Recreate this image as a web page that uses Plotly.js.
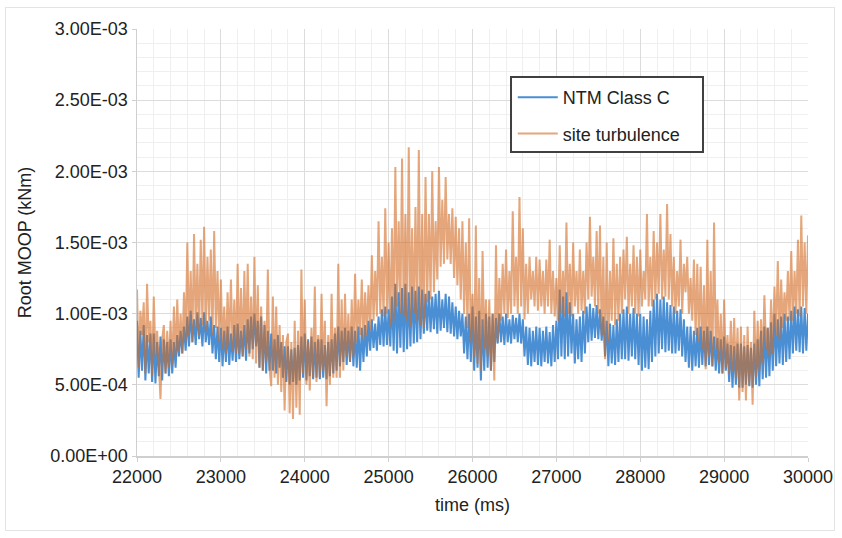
<!DOCTYPE html>
<html>
<head>
<meta charset="utf-8">
<script src="https://cdn.plot.ly/plotly-3.0.1.min.js"></script>
<style>
  html, body { margin: 0; padding: 0; background: #ffffff; }
  #frame { position: absolute; left: 5px; top: 7px; width: 830px; height: 524px; border: 1.5px solid #e4e4e4; box-sizing: border-box; }
  #chart { position: absolute; left: 0; top: 0; width: 842px; height: 538px; }
</style>
</head>
<body>
<div id="frame"></div>
<div id="chart"></div>
<script>
// ---- data ----
const timeStartMs = 22000;   // first sample time
const timeStepMs = 20;       // sampling step

const seriesNames = ['NTM Class C', 'site turbulence'];

const ntmClassC = [
0.95e-3,0.55e-3,0.88e-3,0.60e-3,0.92e-3,0.53e-3,0.85e-3,0.58e-3,0.86e-3,0.52e-3,
0.86e-3,0.51e-3,0.80e-3,0.56e-3,0.84e-3,0.53e-3,0.82e-3,0.58e-3,0.80e-3,0.56e-3,
0.82e-3,0.58e-3,0.80e-3,0.62e-3,0.85e-3,0.70e-3,0.88e-3,0.72e-3,0.91e-3,0.74e-3,
0.98e-3,0.77e-3,1.02e-3,0.80e-3,0.96e-3,0.78e-3,1.01e-3,0.82e-3,0.97e-3,0.77e-3,
1.01e-3,0.80e-3,0.95e-3,0.78e-3,0.98e-3,0.72e-3,0.92e-3,0.68e-3,0.91e-3,0.66e-3,
0.90e-3,0.63e-3,0.88e-3,0.66e-3,0.91e-3,0.64e-3,0.86e-3,0.67e-3,0.92e-3,0.66e-3,
0.93e-3,0.68e-3,0.88e-3,0.70e-3,0.92e-3,0.67e-3,0.96e-3,0.72e-3,0.98e-3,0.75e-3,
1.00e-3,0.77e-3,0.95e-3,0.62e-3,0.98e-3,0.60e-3,0.92e-3,0.58e-3,0.88e-3,0.60e-3,
0.86e-3,0.60e-3,0.82e-3,0.58e-3,0.85e-3,0.62e-3,0.80e-3,0.55e-3,0.77e-3,0.52e-3,
0.77e-3,0.50e-3,0.75e-3,0.52e-3,0.76e-3,0.50e-3,0.78e-3,0.53e-3,0.84e-3,0.55e-3,
0.86e-3,0.53e-3,0.82e-3,0.56e-3,0.84e-3,0.54e-3,0.80e-3,0.55e-3,0.82e-3,0.54e-3,
0.82e-3,0.55e-3,0.78e-3,0.54e-3,0.80e-3,0.56e-3,0.82e-3,0.58e-3,0.86e-3,0.60e-3,
0.91e-3,0.63e-3,0.88e-3,0.66e-3,0.90e-3,0.64e-3,0.88e-3,0.66e-3,0.91e-3,0.63e-3,
0.88e-3,0.62e-3,0.91e-3,0.60e-3,0.90e-3,0.66e-3,0.92e-3,0.70e-3,0.95e-3,0.74e-3,
0.96e-3,0.76e-3,0.93e-3,0.74e-3,0.98e-3,0.78e-3,1.03e-3,0.77e-3,1.05e-3,0.78e-3,
1.03e-3,0.77e-3,1.12e-3,0.74e-3,1.21e-3,0.72e-3,1.15e-3,0.76e-3,1.18e-3,0.73e-3,
1.21e-3,0.75e-3,1.15e-3,0.77e-3,1.19e-3,0.79e-3,1.16e-3,0.80e-3,1.19e-3,0.82e-3,
1.17e-3,0.86e-3,1.14e-3,0.88e-3,1.16e-3,0.87e-3,1.12e-3,0.89e-3,1.14e-3,0.86e-3,
1.16e-3,0.88e-3,1.10e-3,0.90e-3,1.14e-3,0.87e-3,1.12e-3,0.86e-3,1.08e-3,0.84e-3,
1.05e-3,0.82e-3,1.02e-3,0.84e-3,1.00e-3,0.72e-3,0.98e-3,0.68e-3,1.00e-3,0.66e-3,
1.05e-3,0.60e-3,0.98e-3,0.62e-3,1.02e-3,0.53e-3,0.96e-3,0.60e-3,1.00e-3,0.62e-3,
0.98e-3,0.60e-3,1.00e-3,0.66e-3,0.97e-3,0.79e-3,1.00e-3,0.80e-3,0.98e-3,0.78e-3,
1.00e-3,0.80e-3,0.96e-3,0.79e-3,0.99e-3,0.82e-3,0.97e-3,0.80e-3,1.00e-3,0.79e-3,
0.96e-3,0.70e-3,0.91e-3,0.64e-3,0.90e-3,0.63e-3,0.88e-3,0.66e-3,0.91e-3,0.64e-3,
0.90e-3,0.63e-3,0.88e-3,0.66e-3,0.91e-3,0.65e-3,0.87e-3,0.63e-3,0.92e-3,0.66e-3,
0.95e-3,0.68e-3,1.17e-3,0.70e-3,1.12e-3,0.68e-3,1.15e-3,0.70e-3,1.08e-3,0.72e-3,
1.00e-3,0.65e-3,0.96e-3,0.68e-3,0.98e-3,0.66e-3,1.02e-3,0.72e-3,1.05e-3,0.80e-3,
1.07e-3,0.81e-3,1.04e-3,0.83e-3,1.06e-3,0.82e-3,1.03e-3,0.81e-3,0.98e-3,0.70e-3,
0.95e-3,0.63e-3,0.93e-3,0.65e-3,0.92e-3,0.64e-3,0.96e-3,0.66e-3,1.00e-3,0.68e-3,
1.03e-3,0.68e-3,1.05e-3,0.67e-3,1.00e-3,0.70e-3,1.04e-3,0.68e-3,1.00e-3,0.64e-3,
1.00e-3,0.60e-3,0.98e-3,0.62e-3,0.96e-3,0.61e-3,1.02e-3,0.66e-3,1.10e-3,0.70e-3,
1.14e-3,0.72e-3,1.10e-3,0.75e-3,1.12e-3,0.73e-3,1.08e-3,0.74e-3,1.06e-3,0.72e-3,
1.05e-3,0.72e-3,1.02e-3,0.74e-3,1.03e-3,0.70e-3,0.96e-3,0.66e-3,0.91e-3,0.62e-3,
0.91e-3,0.60e-3,0.88e-3,0.63e-3,0.90e-3,0.62e-3,0.91e-3,0.64e-3,0.88e-3,0.63e-3,
0.91e-3,0.64e-3,0.88e-3,0.63e-3,0.84e-3,0.60e-3,0.83e-3,0.58e-3,0.82e-3,0.58e-3,
0.84e-3,0.60e-3,0.79e-3,0.52e-3,0.78e-3,0.48e-3,0.77e-3,0.50e-3,0.79e-3,0.48e-3,
0.79e-3,0.48e-3,0.77e-3,0.50e-3,0.78e-3,0.49e-3,0.76e-3,0.48e-3,0.79e-3,0.50e-3,
0.82e-3,0.49e-3,0.88e-3,0.54e-3,0.91e-3,0.55e-3,0.90e-3,0.56e-3,0.94e-3,0.60e-3,
1.00e-3,0.63e-3,0.96e-3,0.65e-3,0.98e-3,0.64e-3,1.00e-3,0.66e-3,0.98e-3,0.68e-3,
1.02e-3,0.72e-3,1.05e-3,0.74e-3,1.03e-3,0.73e-3,1.05e-3,0.72e-3,1.04e-3,0.74e-3,
1.00e-3
];

const siteTurbulence = [
1.17e-3,0.62e-3,1.02e-3,0.85e-3,1.08e-3,0.58e-3,1.21e-3,0.80e-3,0.95e-3,0.56e-3,
1.12e-3,0.70e-3,0.88e-3,0.60e-3,0.40e-3,0.82e-3,0.92e-3,0.58e-3,0.88e-3,0.62e-3,
0.95e-3,0.64e-3,1.05e-3,0.70e-3,1.10e-3,0.74e-3,1.00e-3,0.72e-3,1.15e-3,0.80e-3,
1.50e-3,0.85e-3,1.30e-3,0.80e-3,1.56e-3,0.90e-3,1.35e-3,0.85e-3,1.52e-3,0.92e-3,
1.61e-3,0.88e-3,1.40e-3,0.95e-3,1.45e-3,0.85e-3,1.58e-3,0.90e-3,1.30e-3,0.80e-3,
1.24e-3,0.75e-3,1.05e-3,0.72e-3,1.15e-3,0.78e-3,1.24e-3,0.74e-3,1.10e-3,0.72e-3,
1.35e-3,0.72e-3,1.18e-3,0.70e-3,1.30e-3,0.75e-3,1.35e-3,0.70e-3,1.12e-3,0.68e-3,
1.40e-3,0.65e-3,1.20e-3,0.62e-3,1.05e-3,0.60e-3,0.95e-3,0.66e-3,1.31e-3,0.62e-3,
0.49e-3,1.12e-3,0.55e-3,1.05e-3,0.50e-3,0.92e-3,0.45e-3,0.85e-3,0.32e-3,0.80e-3,
0.86e-3,0.30e-3,0.80e-3,0.26e-3,0.95e-3,0.34e-3,0.88e-3,0.29e-3,1.31e-3,0.58e-3,
1.10e-3,0.50e-3,0.80e-3,0.46e-3,0.90e-3,0.55e-3,1.19e-3,0.52e-3,0.85e-3,0.55e-3,
1.14e-3,0.60e-3,0.95e-3,0.35e-3,0.85e-3,0.50e-3,1.14e-3,0.55e-3,0.90e-3,0.55e-3,
1.35e-3,0.55e-3,1.10e-3,0.60e-3,1.14e-3,0.70e-3,1.00e-3,0.66e-3,1.10e-3,0.70e-3,
1.28e-3,0.80e-3,1.10e-3,0.85e-3,1.24e-3,0.82e-3,1.15e-3,0.85e-3,1.20e-3,0.88e-3,
1.41e-3,0.95e-3,1.30e-3,0.98e-3,1.65e-3,1.00e-3,1.40e-3,0.98e-3,1.74e-3,1.00e-3,
1.50e-3,0.91e-3,1.60e-3,0.95e-3,2.03e-3,1.05e-3,1.65e-3,1.00e-3,2.09e-3,0.98e-3,
1.70e-3,0.95e-3,2.17e-3,0.91e-3,1.60e-3,1.00e-3,1.75e-3,0.95e-3,2.15e-3,0.92e-3,
1.70e-3,0.90e-3,1.96e-3,1.08e-3,1.70e-3,1.10e-3,2.00e-3,1.15e-3,1.65e-3,1.24e-3,
2.03e-3,1.33e-3,1.80e-3,1.35e-3,1.96e-3,1.38e-3,1.70e-3,1.35e-3,1.74e-3,1.25e-3,
1.68e-3,1.20e-3,1.60e-3,1.10e-3,1.65e-3,1.00e-3,1.50e-3,0.90e-3,1.67e-3,0.80e-3,
1.14e-3,0.70e-3,1.62e-3,0.65e-3,1.25e-3,0.60e-3,1.44e-3,0.75e-3,1.10e-3,0.70e-3,
1.10e-3,0.60e-3,1.00e-3,0.53e-3,1.48e-3,0.80e-3,1.25e-3,0.95e-3,1.35e-3,1.00e-3,
1.45e-3,0.97e-3,1.30e-3,1.00e-3,1.72e-3,1.05e-3,1.40e-3,1.00e-3,1.82e-3,1.05e-3,
1.60e-3,0.96e-3,1.35e-3,1.00e-3,1.40e-3,1.10e-3,1.30e-3,1.05e-3,1.40e-3,1.02e-3,
1.38e-3,1.05e-3,1.30e-3,1.00e-3,1.38e-3,1.05e-3,1.52e-3,1.00e-3,1.30e-3,0.98e-3,
1.25e-3,0.95e-3,1.48e-3,1.00e-3,1.30e-3,0.98e-3,1.64e-3,1.00e-3,1.35e-3,0.98e-3,
1.50e-3,1.05e-3,1.30e-3,1.00e-3,1.45e-3,1.02e-3,1.30e-3,1.00e-3,1.50e-3,1.10e-3,
1.68e-3,1.12e-3,1.40e-3,1.05e-3,1.58e-3,1.00e-3,1.62e-3,0.85e-3,1.40e-3,0.68e-3,
1.50e-3,0.80e-3,1.30e-3,0.95e-3,1.53e-3,0.92e-3,1.35e-3,0.95e-3,1.40e-3,1.00e-3,
1.45e-3,1.10e-3,1.54e-3,1.00e-3,1.35e-3,1.05e-3,1.48e-3,1.00e-3,1.40e-3,0.98e-3,
1.45e-3,1.05e-3,1.30e-3,1.10e-3,1.70e-3,1.05e-3,1.40e-3,1.05e-3,1.58e-3,1.10e-3,
1.50e-3,1.14e-3,1.70e-3,1.10e-3,1.45e-3,1.12e-3,1.77e-3,1.10e-3,1.56e-3,1.05e-3,
1.40e-3,1.00e-3,1.30e-3,1.05e-3,1.52e-3,1.00e-3,1.35e-3,1.15e-3,1.40e-3,1.00e-3,
1.25e-3,0.95e-3,1.38e-3,0.85e-3,1.35e-3,0.80e-3,1.33e-3,0.75e-3,1.20e-3,0.61e-3,
1.52e-3,0.70e-3,1.30e-3,0.63e-3,1.64e-3,0.75e-3,1.10e-3,0.65e-3,1.00e-3,0.58e-3,
1.10e-3,0.62e-3,0.85e-3,0.58e-3,0.95e-3,0.60e-3,0.97e-3,0.55e-3,0.90e-3,0.39e-3,
0.91e-3,0.45e-3,0.85e-3,0.39e-3,0.91e-3,0.50e-3,0.80e-3,0.36e-3,1.02e-3,0.55e-3,
0.95e-3,0.60e-3,0.96e-3,0.65e-3,1.13e-3,0.75e-3,0.90e-3,0.70e-3,1.10e-3,0.72e-3,
1.19e-3,0.85e-3,1.37e-3,0.82e-3,1.24e-3,0.90e-3,1.15e-3,0.95e-3,1.30e-3,0.95e-3,
1.44e-3,0.95e-3,1.30e-3,1.00e-3,1.52e-3,0.98e-3,1.69e-3,1.05e-3,1.50e-3,1.00e-3,
1.55e-3
];

const xTickVals = [22000, 23000, 24000, 25000, 26000, 27000, 28000, 29000, 30000];
const yTickVals = [0, 0.0005, 0.0010, 0.0015, 0.0020, 0.0025, 0.0030];
const yTickText = ['0.00E+00', '5.00E-04', '1.00E-03', '1.50E-03', '2.00E-03', '2.50E-03', '3.00E-03'];

// ---- chart ----
const FONT = 'Liberation Sans, Arial, Helvetica, sans-serif';
const traces = [
  {
    type: 'scatter', mode: 'lines', name: seriesNames[0],
    x0: timeStartMs, dx: timeStepMs, y: ntmClassC,
    line: { color: '#4a8ed4', width: 2 },
    legendgroup: 'a'
  },
  {
    type: 'scatter', mode: 'lines', name: seriesNames[1],
    x0: timeStartMs, dx: timeStepMs, y: siteTurbulence,
    line: { color: 'rgba(210,107,33,0.6)', width: 2 },
    legendgroup: 'b'
  }
];

const layout = {
  width: 842, height: 538,
  margin: { l: 137, r: 34, t: 29, b: 82 },
  paper_bgcolor: 'rgba(0,0,0,0)',
  plot_bgcolor: '#ffffff',
  font: { family: FONT, size: 18, color: '#222222' },
  showlegend: true,
  legend: {
    x: 0.560, y: 0.883, xanchor: 'left', yanchor: 'top',
    bgcolor: 'rgba(0,0,0,0)', borderwidth: 0,
    font: { family: FONT, size: 18, color: '#222222' },
    traceorder: 'grouped', tracegroupgap: 10,
    itemwidth: 40
  },
  shapes: [
    { type: 'rect', xref: 'paper', yref: 'paper', layer: 'above',
      x0: 0.5574, x1: 0.8435, y0: 0.712, y1: 0.8876,
      fillcolor: '#ffffff', line: { color: '#404040', width: 2 } }
  ],
  xaxis: {
    range: [22000, 30000],
    tickvals: xTickVals, tickformat: 'd',
    showgrid: true, gridcolor: '#dcdcdc', gridwidth: 1,
    minor: { dtick: 200, showgrid: true, gridcolor: '#efefef', gridwidth: 1 },
    showline: true, linecolor: '#cfcfcf', linewidth: 1.5,
    ticks: 'outside', ticklen: 4, tickcolor: '#cfcfcf',
    zeroline: false,
    tickfont: { family: FONT, size: 18, color: '#222222' },
    title: { text: 'time (ms)', font: { family: FONT, size: 18, color: '#222222' }, standoff: 12 }
  },
  yaxis: {
    range: [0, 0.003],
    tickvals: yTickVals, ticktext: yTickText,
    showgrid: true, gridcolor: '#dcdcdc', gridwidth: 1,
    minor: { dtick: 0.0001, showgrid: true, gridcolor: '#efefef', gridwidth: 1 },
    showline: true, linecolor: '#cfcfcf', linewidth: 1.5,
    ticks: 'outside', ticklen: 4, tickcolor: '#cfcfcf',
    zeroline: false,
    tickfont: { family: FONT, size: 18, color: '#222222' },
    title: { text: 'Root MOOP (kNm)', font: { family: FONT, size: 18, color: '#222222' }, standoff: 14 }
  }
};

Plotly.newPlot('chart', traces, layout, { staticPlot: true, displayModeBar: false });
</script>
</body>
</html>
